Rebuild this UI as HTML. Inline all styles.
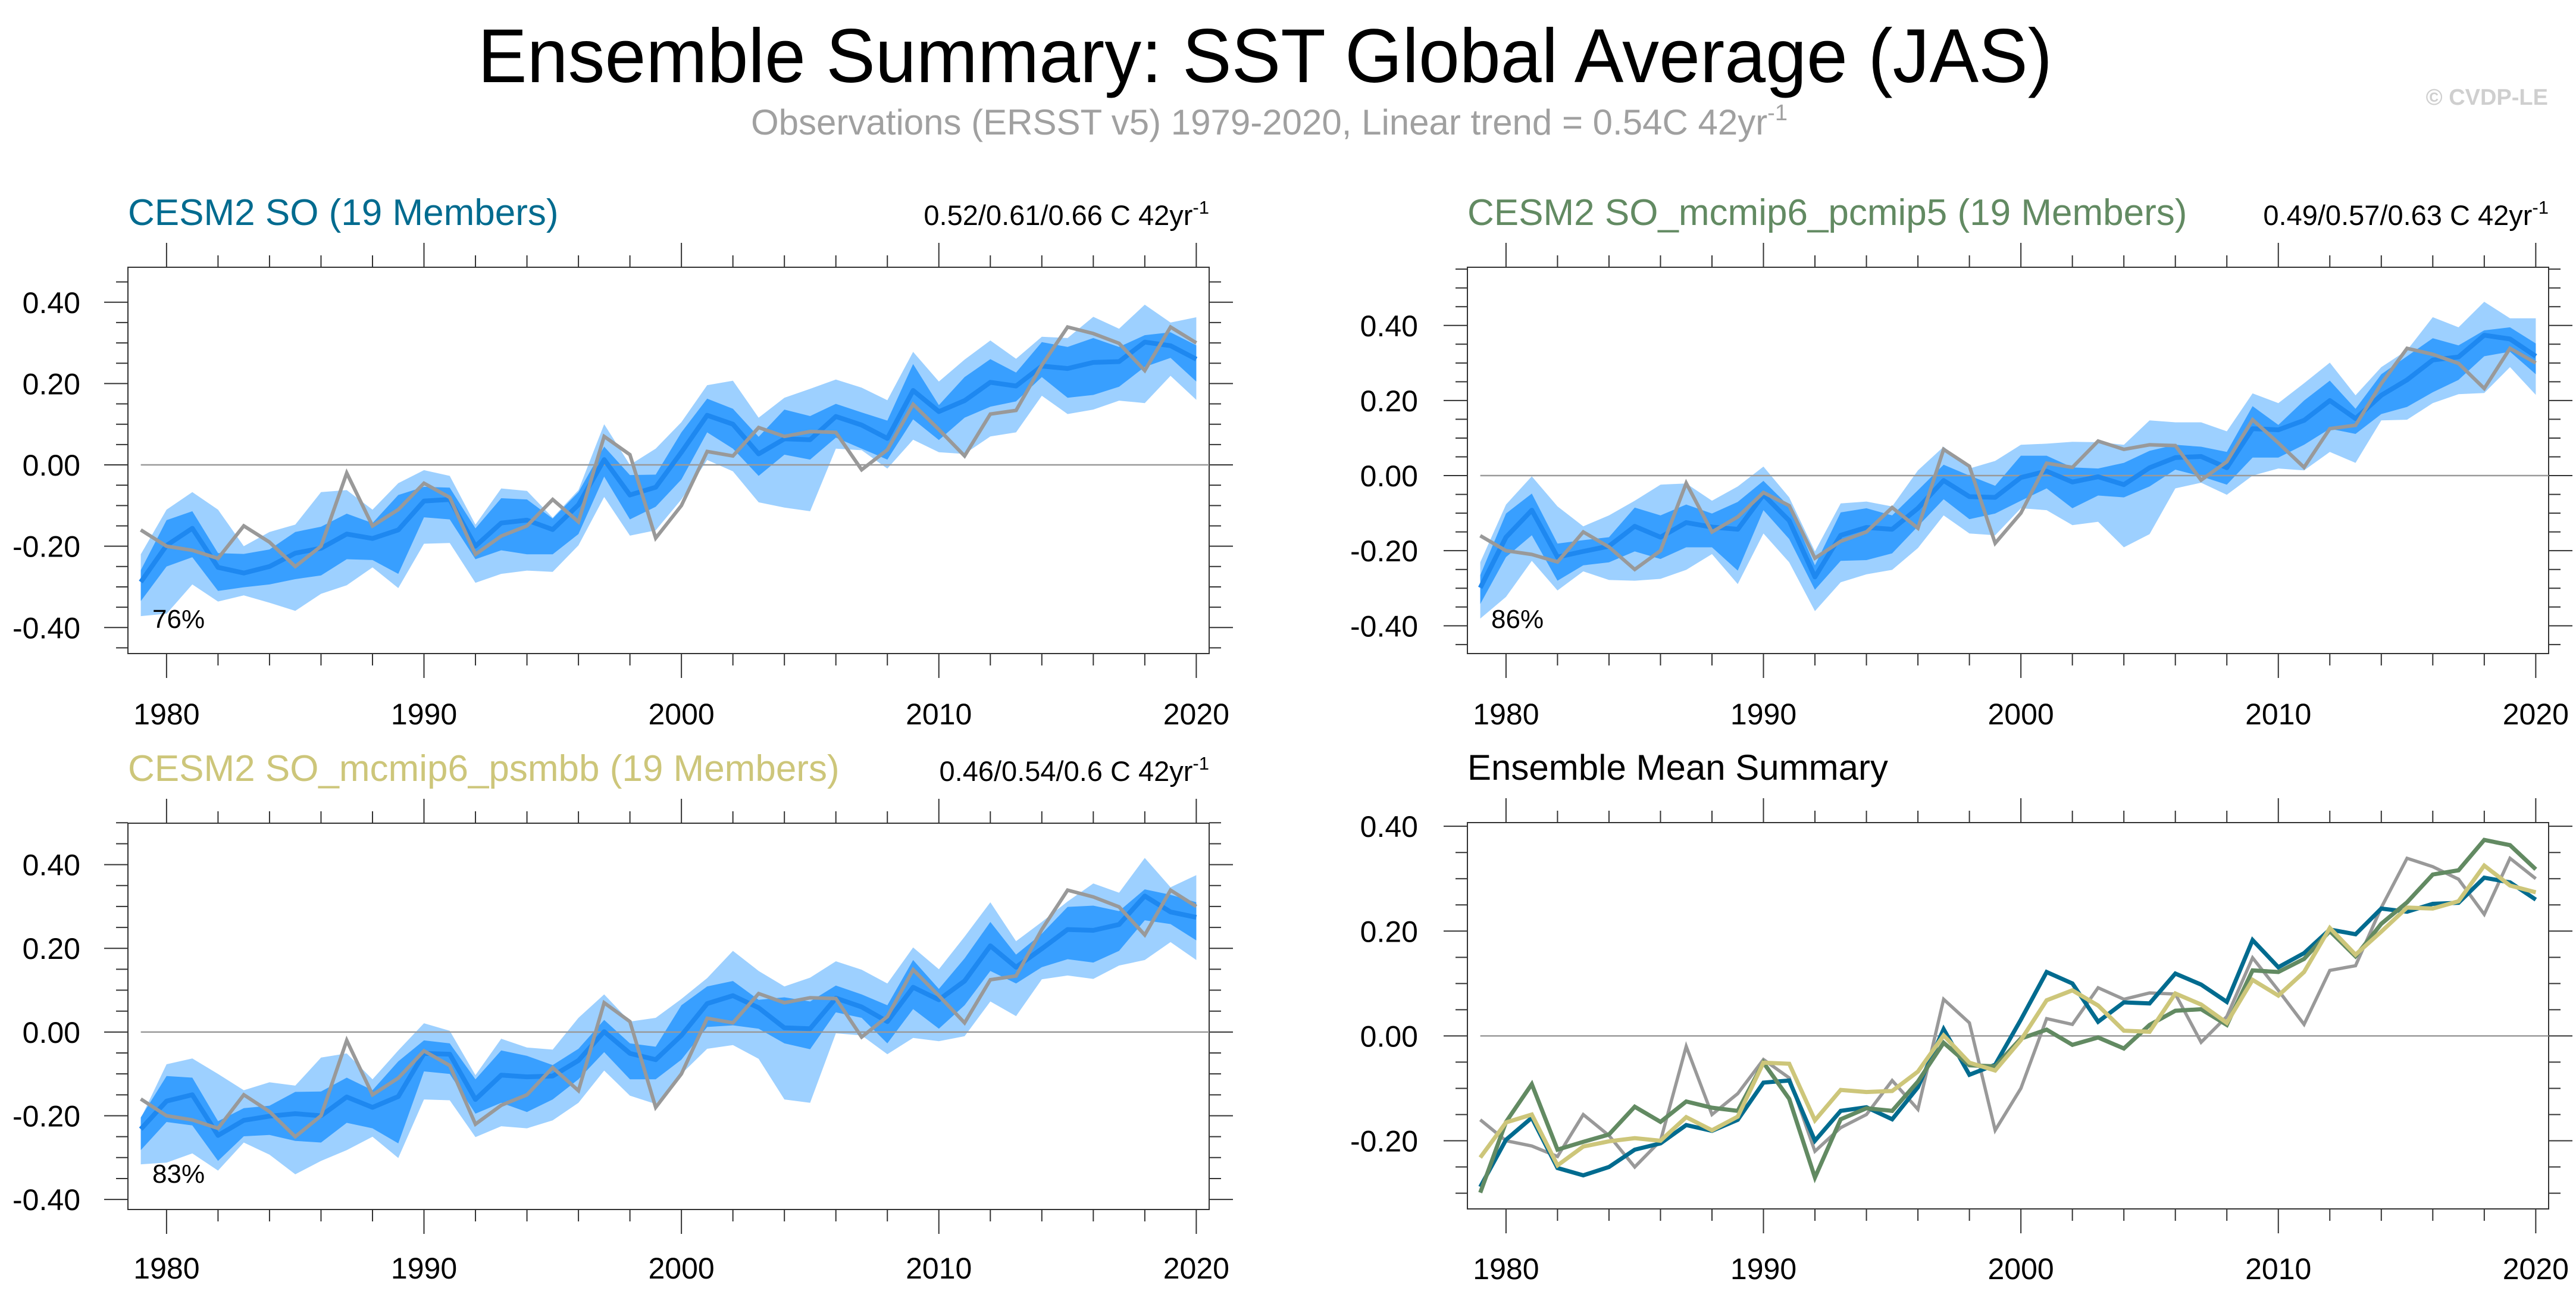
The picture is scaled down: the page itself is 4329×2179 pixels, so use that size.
<!DOCTYPE html>
<html><head><meta charset="utf-8"><style>
html,body{margin:0;padding:0;background:#fff;}
svg{display:block;font-family:"Liberation Sans",sans-serif;}
</style></head><body>
<svg id="chart" xmlns="http://www.w3.org/2000/svg" width="4329" height="2179" viewBox="0 0 4329 2179">
<rect width="4329" height="2179" fill="#fff"/>
<text x="2126" y="138" font-size="128" text-anchor="middle" textLength="2646" lengthAdjust="spacingAndGlyphs" fill="#000">Ensemble Summary: SST Global Average (JAS)</text>
<text x="2133" y="226" font-size="60" text-anchor="middle" fill="#a0a0a0">Observations (ERSST v5) 1979-2020, Linear trend = 0.54C 42yr<tspan dy="-24" font-size="38">-1</tspan></text>
<text x="4282" y="176" font-size="38" font-weight="bold" text-anchor="end" fill="#cfcfcf">© CVDP-LE</text>
<g id="plots"></g>
</svg>
<script>
const years = [];
for (let y = 1979; y <= 2020; y++) years.push(y);
const xTickLabels = [1980, 1990, 2000, 2010, 2020];
const yTickLabelsBand = [0.4, 0.2, 0.0, -0.2, -0.4];
const yTickLabelsMean = [0.4, 0.2, 0.0, -0.2];

const obs = [-0.16,-0.20,-0.21,-0.23,-0.15,-0.19,-0.25,-0.20,-0.02,-0.15,-0.11,-0.045,-0.08,-0.22,-0.175,-0.15,-0.085,-0.14,0.07,0.025,-0.18,-0.10,0.033,0.022,0.092,0.07,0.082,0.08,-0.012,0.037,0.149,0.087,0.022,0.125,0.134,0.245,0.339,0.323,0.299,0.232,0.339,0.30];

const soMean = [-0.288,-0.198,-0.156,-0.252,-0.266,-0.25,-0.217,-0.205,-0.17,-0.181,-0.16,-0.089,-0.085,-0.20,-0.143,-0.136,-0.159,-0.098,0.013,-0.074,-0.055,0.031,0.122,0.10,0.027,0.064,0.062,0.119,0.098,0.065,0.183,0.131,0.158,0.203,0.194,0.243,0.237,0.252,0.254,0.302,0.293,0.26];
const soLightHi = [-0.22,-0.11,-0.067,-0.11,-0.20,-0.165,-0.147,-0.067,-0.062,-0.11,-0.045,-0.013,-0.027,-0.147,-0.058,-0.064,-0.13,-0.062,0.10,0.0,0.04,0.105,0.196,0.207,0.116,0.165,0.187,0.21,0.19,0.159,0.278,0.205,0.259,0.306,0.261,0.315,0.312,0.364,0.335,0.394,0.35,0.363];
const soLightLo = [-0.372,-0.366,-0.294,-0.336,-0.321,-0.339,-0.359,-0.317,-0.296,-0.252,-0.303,-0.194,-0.192,-0.29,-0.268,-0.26,-0.263,-0.198,-0.079,-0.174,-0.161,-0.085,0.012,-0.016,-0.092,-0.105,-0.114,0.04,0.036,-0.009,0.062,0.031,0.027,0.07,0.08,0.17,0.125,0.136,0.158,0.152,0.219,0.16];
const soDarkHi = [-0.259,-0.136,-0.114,-0.217,-0.219,-0.208,-0.165,-0.152,-0.12,-0.143,-0.074,-0.054,-0.056,-0.156,-0.082,-0.085,-0.132,-0.067,0.045,-0.025,-0.024,0.08,0.163,0.138,0.069,0.136,0.12,0.15,0.129,0.109,0.248,0.147,0.216,0.26,0.227,0.302,0.29,0.312,0.29,0.319,0.326,0.294];
const soDarkLo = [-0.335,-0.25,-0.227,-0.31,-0.301,-0.294,-0.281,-0.272,-0.232,-0.234,-0.268,-0.129,-0.134,-0.232,-0.21,-0.22,-0.22,-0.17,-0.029,-0.134,-0.103,-0.036,0.08,0.04,-0.027,0.025,0.013,0.067,0.04,0.013,0.112,0.061,0.116,0.143,0.156,0.216,0.165,0.172,0.192,0.241,0.263,0.205];

const p5Mean = [-0.299,-0.164,-0.092,-0.217,-0.202,-0.188,-0.135,-0.164,-0.125,-0.137,-0.143,-0.051,-0.12,-0.27,-0.159,-0.138,-0.143,-0.087,-0.013,-0.056,-0.058,-0.005,0.012,-0.017,-0.003,-0.024,0.021,0.048,0.051,0.021,0.125,0.122,0.147,0.20,0.152,0.214,0.255,0.308,0.316,0.374,0.364,0.318];
const p5LightHi = [-0.231,-0.077,-0.002,-0.082,-0.135,-0.106,-0.067,-0.024,-0.021,-0.067,-0.029,0.024,-0.058,-0.202,-0.074,-0.069,-0.082,0.014,0.077,0.019,0.039,0.082,0.085,0.09,0.089,0.082,0.147,0.142,0.142,0.118,0.219,0.193,0.246,0.301,0.214,0.289,0.334,0.422,0.395,0.463,0.419,0.419];
const p5LightLo = [-0.381,-0.323,-0.227,-0.306,-0.255,-0.278,-0.28,-0.275,-0.251,-0.209,-0.289,-0.154,-0.231,-0.361,-0.284,-0.263,-0.251,-0.193,-0.106,-0.154,-0.159,-0.087,-0.092,-0.132,-0.123,-0.191,-0.156,-0.034,-0.019,-0.051,0.0,0.019,0.014,0.063,0.034,0.147,0.149,0.193,0.217,0.22,0.289,0.215];
const p5DarkHi = [-0.265,-0.101,-0.048,-0.181,-0.172,-0.164,-0.085,-0.106,-0.077,-0.101,-0.07,-0.014,-0.082,-0.239,-0.098,-0.087,-0.106,-0.039,0.029,0.0,-0.027,0.053,0.053,0.022,0.019,0.034,0.066,0.082,0.077,0.063,0.185,0.135,0.20,0.253,0.178,0.27,0.318,0.366,0.347,0.387,0.395,0.352];
const p5DarkLo = [-0.342,-0.217,-0.159,-0.28,-0.239,-0.231,-0.202,-0.222,-0.191,-0.191,-0.253,-0.092,-0.169,-0.304,-0.227,-0.225,-0.207,-0.135,-0.063,-0.116,-0.101,-0.067,-0.034,-0.087,-0.053,-0.058,-0.029,0.016,-0.002,-0.024,0.048,0.048,0.082,0.125,0.111,0.164,0.183,0.222,0.255,0.318,0.33,0.27];

const bbMean = [-0.232,-0.165,-0.15,-0.247,-0.211,-0.201,-0.195,-0.20,-0.155,-0.18,-0.154,-0.051,-0.053,-0.161,-0.103,-0.107,-0.105,-0.068,0.001,-0.051,-0.066,-0.008,0.068,0.087,0.058,0.01,0.008,0.081,0.06,0.025,0.107,0.077,0.122,0.206,0.155,0.199,0.245,0.243,0.257,0.325,0.287,0.274];
const bbLightHi = [-0.206,-0.077,-0.063,-0.10,-0.139,-0.12,-0.128,-0.061,-0.051,-0.113,-0.044,0.021,0.003,-0.103,-0.016,-0.037,-0.042,0.034,0.09,0.025,0.034,0.079,0.129,0.194,0.146,0.109,0.13,0.169,0.149,0.116,0.202,0.15,0.228,0.31,0.217,0.263,0.312,0.355,0.333,0.416,0.346,0.375];
const bbLightLo = [-0.316,-0.312,-0.29,-0.331,-0.264,-0.293,-0.34,-0.308,-0.282,-0.25,-0.301,-0.161,-0.163,-0.251,-0.225,-0.23,-0.211,-0.169,-0.092,-0.152,-0.172,-0.10,-0.04,-0.031,-0.064,-0.161,-0.169,-0.003,-0.008,-0.053,-0.014,-0.022,-0.01,0.073,0.038,0.126,0.135,0.127,0.159,0.172,0.215,0.172];
const bbDarkHi = [-0.204,-0.105,-0.109,-0.213,-0.182,-0.176,-0.143,-0.142,-0.109,-0.139,-0.07,-0.02,-0.027,-0.113,-0.044,-0.057,-0.079,-0.04,0.029,-0.027,-0.035,0.064,0.109,0.122,0.077,0.083,0.073,0.111,0.09,0.064,0.172,0.103,0.176,0.263,0.185,0.235,0.299,0.302,0.289,0.341,0.328,0.31];
const bbDarkLo = [-0.282,-0.215,-0.223,-0.308,-0.249,-0.246,-0.26,-0.264,-0.217,-0.23,-0.266,-0.094,-0.10,-0.195,-0.169,-0.191,-0.161,-0.113,-0.048,-0.113,-0.113,-0.066,0.012,0.016,0.008,-0.027,-0.041,0.047,0.034,-0.027,0.055,0.008,0.064,0.146,0.116,0.155,0.174,0.166,0.194,0.267,0.258,0.219];

const trendTexts = ["0.52/0.61/0.66 C 42yr", "0.49/0.57/0.63 C 42yr", "0.46/0.54/0.6 C 42yr"];
const percentLabels = ["76%", "86%", "83%"];

const NS = "http://www.w3.org/2000/svg";
const root = document.getElementById("plots");
function mk(tag, attrs, parent) {
  const e = document.createElementNS(NS, tag);
  for (const k in attrs) e.setAttribute(k, attrs[k]);
  (parent || root).appendChild(e);
  return e;
}

function drawAxes(g, P, xs, ys, yLabels, name) {
  const tk = "#333";
  const fr = mk("rect", {x:P.left, y:P.top, width:P.right-P.left, height:P.bottom-P.top, fill:"none", stroke:tk, "stroke-width":2}, g);
  
  
  for (let yr = 1980; yr <= 2020; yr += 2) {
    const major = yr % 10 === 0;
    const L = major ? 41 : 20;
    const x = xs(yr);
    const t1 = mk("line", {x1:x, x2:x, y1:P.bottom, y2:P.bottom+L, stroke:tk, "stroke-width":2}, g);
    
    
    const t2 = mk("line", {x1:x, x2:x, y1:P.top, y2:P.top-L, stroke:tk, "stroke-width":2}, g);
    
    
  }
  xTickLabels.forEach(v => {
    const t = mk("text", {x:xs(v), y:P.xLabelY, "font-size":50, "text-anchor":"middle", fill:"#000"}, g);
    t.textContent = v;
    
    
  });
  for (let k = -20; k <= 20; k++) {
    const v = k * 0.05;
    const y = ys(v);
    if (y < P.top - 1 || y > P.bottom + 1) continue;
    const major = Math.abs(Math.round(v*100)) % 20 === 0;
    const L = major ? 40 : 20;
    const a = mk("line", {x1:P.left, x2:P.left-L, y1:y, y2:y, stroke:tk, "stroke-width":2}, g);
    
    
    const b = mk("line", {x1:P.right, x2:P.right+L, y1:y, y2:y, stroke:tk, "stroke-width":2}, g);
    
    
  }
  yLabels.forEach(v => {
    const t = mk("text", {x:P.yLabelX, y:ys(v)+18, "font-size":50, "text-anchor":"end", fill:"#000"}, g);
    t.textContent = v.toFixed(2);
    
    
  });
  const z = mk("line", {x1:xs(1979), x2:P.right, y1:ys(0), y2:ys(0), stroke:"#999", "stroke-width":2.5}, g);
  
  
}

function linePts(xs, ys, arr) { return arr.map((v,i)=>xs(years[i]).toFixed(1)+","+ys(v).toFixed(1)).join(" "); }
function bandPts(xs, ys, hi, lo) {
  const up = hi.map((v,i)=>xs(years[i]).toFixed(1)+","+ys(v).toFixed(1));
  const dn = lo.map((v,i)=>xs(years[i]).toFixed(1)+","+ys(v).toFixed(1)).reverse();
  return up.concat(dn).join(" ");
}

function makeScales(P, yMin, yMax) {
  const xs = v => P.left + (v - 1978.5) / 42 * (P.right - P.left);
  const ys = v => P.bottom - (v - yMin) / (yMax - yMin) * (P.bottom - P.top);
  return [xs, ys];
}

const bandPanels = [
  {name:"panel-cesm2-so", title:"CESM2 SO (19 Members)", color:"#006b8f", left:215, right:2032, top:449, bottom:1098, yMin:-0.464, yMax:0.486, titleY:378, xLabelY:1217, yLabelX:135, pctX:256, pctY:1055, mean:soMean, lh:soLightHi, ll:soLightLo, dh:soDarkHi, dl:soDarkLo, ti:0},
  {name:"panel-cesm2-pcmip5", title:"CESM2 SO_mcmip6_pcmip5 (19 Members)", color:"#628a62", left:2466, right:4283, top:449, bottom:1098, yMin:-0.474, yMax:0.555, titleY:378, xLabelY:1217, yLabelX:2383, pctX:2506, pctY:1055, mean:p5Mean, lh:p5LightHi, ll:p5LightLo, dh:p5DarkHi, dl:p5DarkLo, ti:1},
  {name:"panel-cesm2-psmbb", title:"CESM2 SO_mcmip6_psmbb (19 Members)", color:"#cdc67a", left:215, right:2032, top:1383, bottom:2032, yMin:-0.424, yMax:0.499, titleY:1312, xLabelY:2148, yLabelX:135, pctX:256, pctY:1987, mean:bbMean, lh:bbLightHi, ll:bbLightLo, dh:bbDarkHi, dl:bbDarkLo, ti:2}
];

bandPanels.forEach(P => {
  const g = mk("g", {});
  
  
  const [xs, ys] = makeScales(P, P.yMin, P.yMax);
  const l = mk("polygon", {points:bandPts(xs, ys, P.lh, P.ll), fill:"#9dd0ff"}, g);
  
  
  const d = mk("polygon", {points:bandPts(xs, ys, P.dh, P.dl), fill:"#389fff"}, g);
  
  
  drawAxes(g, P, xs, ys, yTickLabelsBand, P.name);
  const m = mk("polyline", {points:linePts(xs, ys, P.mean), fill:"none", stroke:"#1e88f0", "stroke-width":8, "stroke-linejoin":"round"}, g);
  
  
  const o = mk("polyline", {points:linePts(xs, ys, obs), fill:"none", stroke:"#999", "stroke-width":6}, g);
  
  
  const t = mk("text", {x:P.left, y:P.titleY, "font-size":62, fill:P.color}, g);
  t.textContent = P.title;
  
  
  const tr = mk("text", {x:P.right, y:P.titleY, "font-size":47, "text-anchor":"end", fill:"#000"}, g);
  tr.textContent = trendTexts[P.ti];
  const sup = mk("tspan", {dy:-19, "font-size":31}, tr);
  sup.textContent = "-1";
  
  
  const pc = mk("text", {x:P.pctX, y:P.pctY, "font-size":44, fill:"#000"}, g);
  pc.textContent = percentLabels[P.ti];
  
  
});

(function(){
  const P = {left:2466, right:4283, top:1382, bottom:2031, xLabelY:2149, yLabelX:2383};
  const g = mk("g", {});
  
  
  const [xs, ys] = makeScales(P, -0.33, 0.407);
  drawAxes(g, P, xs, ys, yTickLabelsMean, 'panel-ensemble-mean-summary');
  const o = mk("polyline", {points:linePts(xs, ys, obs), fill:"none", stroke:"#999", "stroke-width":5.5}, g);
  
  
  const a = mk("polyline", {points:linePts(xs, ys, soMean), fill:"none", stroke:"#006b8f", "stroke-width":7}, g);
  
  
  const b = mk("polyline", {points:linePts(xs, ys, p5Mean), fill:"none", stroke:"#628a62", "stroke-width":7}, g);
  
  
  const c = mk("polyline", {points:linePts(xs, ys, bbMean), fill:"none", stroke:"#cdc67a", "stroke-width":7}, g);
  
  
  const t = mk("text", {x:P.left, y:1310, "font-size":60, fill:"#000"}, g);
  t.textContent = "Ensemble Mean Summary";
  
  
})();
</script>
</body></html>
